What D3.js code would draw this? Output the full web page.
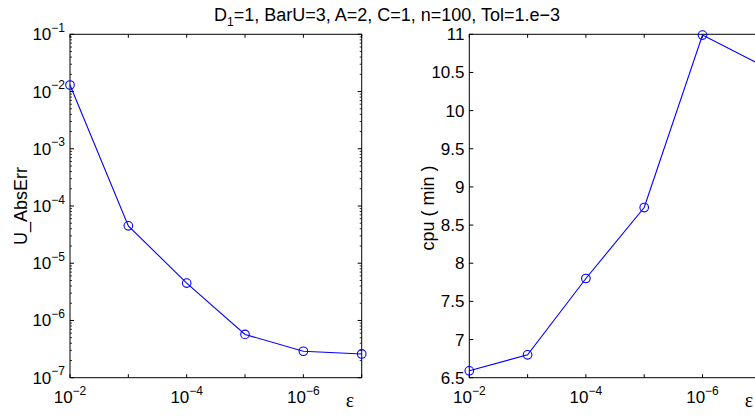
<!DOCTYPE html>
<html><head><meta charset="utf-8">
<script src="https://cdn.jsdelivr.net/npm/d3@7"></script>
<style>
body{margin:0;background:#fff;}
svg{display:block;font-family:"Liberation Sans",Arial,sans-serif;}
</style></head>
<body><svg id="c" width="755" height="416"></svg>
<script>
// ---- data ----
const epsValues = [1e-2, 1e-3, 1e-4, 1e-5, 1e-6, 1e-7];
const absErr = [1.3e-2, 4.5e-5, 4.5e-6, 5.7e-7, 2.9e-7, 2.6e-7];
const cpuMin = [6.59, 6.80, 7.80, 8.73, 10.99, 10.6];
const xTickValues = [1e-2, 1e-4, 1e-6];
const xTickExps = ["\u22122", "\u22124", "\u22126"];
const yLeftTickValues = [1e-1, 1e-2, 1e-3, 1e-4, 1e-5, 1e-6, 1e-7];
const yLeftTickExps = ["\u22121", "\u22122", "\u22123", "\u22124", "\u22125", "\u22126", "\u22127"];
const yRightTickValues = [6.5, 7, 7.5, 8, 8.5, 9, 9.5, 10, 10.5, 11];
const titleMain = "D";
const titleSub = "1";
const titleRest = "=1, BarU=3, A=2, C=1, n=100, Tol=1.e\u22123";

const svg = d3.select("#c");
const blue = "#0000ff";
const yTop = 34.3, yBot = 377.7;
const fs = 17, fsSup = 12, fsTitle = 18, fsLab = 18;

function panel(x0, x1) {
  return d3.scaleLog().domain([1e-2, 1e-7]).range([x0, x1]);
}

// ---------- Left panel ----------
const xL = panel(70, 361.7);
const yL = d3.scaleLog().domain([1e-7, 1e-1]).range([yBot, yTop]);
const gL = svg.append("g");

const minors = [];
for (let e = -7; e < -1; e++) for (let m = 2; m <= 9; m++) minors.push(m * Math.pow(10, e));
minors.forEach(v => {
  const yy = yL(v);
  gL.append("line").attr("x1", 70).attr("x2", 72).attr("y1", yy).attr("y2", yy).attr("stroke", "#000").attr("stroke-width", 0.8);
  gL.append("line").attr("x1", 361.7).attr("x2", 359.7).attr("y1", yy).attr("y2", yy).attr("stroke", "#000").attr("stroke-width", 0.8);
});
yLeftTickValues.forEach((v, i) => {
  const yy = yL(v);
  gL.append("line").attr("x1", 70).attr("x2", 74).attr("y1", yy).attr("y2", yy).attr("stroke", "#000");
  gL.append("line").attr("x1", 361.7).attr("x2", 357.7).attr("y1", yy).attr("y2", yy).attr("stroke", "#000");
  const t = gL.append("text").attr("x", 65).attr("y", yy + 6).attr("text-anchor", "end").attr("font-size", fs);
  t.append("tspan").text("10");
  t.append("tspan").attr("dy", -8.5).attr("font-size", fsSup).text(yLeftTickExps[i]);
});
epsValues.forEach(v => {
  const xx = xL(v);
  gL.append("line").attr("x1", xx).attr("x2", xx).attr("y1", yBot).attr("y2", yBot - 3.5).attr("stroke", "#000");
  gL.append("line").attr("x1", xx).attr("x2", xx).attr("y1", yTop).attr("y2", yTop + 3.5).attr("stroke", "#000");
});
xTickValues.forEach((v, i) => {
  const t = gL.append("text").attr("x", xL(v)).attr("y", 403).attr("text-anchor", "middle").attr("font-size", fs);
  t.append("tspan").text("10");
  t.append("tspan").attr("dy", -8.5).attr("font-size", fsSup).text(xTickExps[i]);
});
gL.append("rect").attr("x", 70).attr("y", yTop).attr("width", 361.7 - 70).attr("height", yBot - yTop)
  .attr("fill", "none").attr("stroke", "#000").attr("stroke-width", 1);
gL.append("path").datum(epsValues.map((e, i) => [e, absErr[i]]))
  .attr("d", d3.line().x(d => xL(d[0])).y(d => yL(d[1])))
  .attr("fill", "none").attr("stroke", blue).attr("stroke-width", 1.1);
gL.selectAll("circle.m").data(epsValues.map((e, i) => [e, absErr[i]])).enter().append("circle")
  .attr("cx", d => xL(d[0])).attr("cy", d => yL(d[1])).attr("r", 4.3)
  .attr("fill", "none").attr("stroke", blue).attr("stroke-width", 1.1);
gL.append("text").attr("transform", "translate(27,206) rotate(-90)").attr("text-anchor", "middle")
  .attr("font-size", fsLab).text("U_AbsErr");
gL.append("text").attr("x", 350).attr("y", 407).attr("text-anchor", "middle")
  .attr("font-family", "Liberation Serif, serif").attr("font-size", 20).text("\u03b5");

// ---------- Right panel ----------
const xR = panel(469.3, 760.8);
const yR = d3.scaleLinear().domain([6.5, 11]).range([yBot, yTop]);
const gR = svg.append("g");
yRightTickValues.forEach(v => {
  const yy = yR(v);
  gR.append("line").attr("x1", 469.3).attr("x2", 473.3).attr("y1", yy).attr("y2", yy).attr("stroke", "#000");
  gR.append("text").attr("x", 464.5).attr("y", yy + 6).attr("text-anchor", "end").attr("font-size", fs).text(String(v));
});
epsValues.forEach(v => {
  const xx = xR(v);
  gR.append("line").attr("x1", xx).attr("x2", xx).attr("y1", yBot).attr("y2", yBot - 3.5).attr("stroke", "#000");
  gR.append("line").attr("x1", xx).attr("x2", xx).attr("y1", yTop).attr("y2", yTop + 3.5).attr("stroke", "#000");
});
xTickValues.forEach((v, i) => {
  const t = gR.append("text").attr("x", xR(v)).attr("y", 403).attr("text-anchor", "middle").attr("font-size", fs);
  t.append("tspan").text("10");
  t.append("tspan").attr("dy", -8.5).attr("font-size", fsSup).text(xTickExps[i]);
});
gR.append("rect").attr("x", 469.3).attr("y", yTop).attr("width", 760.8 - 469.3).attr("height", yBot - yTop)
  .attr("fill", "none").attr("stroke", "#000").attr("stroke-width", 1);
gR.append("path").datum(epsValues.map((e, i) => [e, cpuMin[i]]))
  .attr("d", d3.line().x(d => xR(d[0])).y(d => yR(d[1])))
  .attr("fill", "none").attr("stroke", blue).attr("stroke-width", 1.1);
gR.selectAll("circle.m").data(epsValues.map((e, i) => [e, cpuMin[i]])).enter().append("circle")
  .attr("cx", d => xR(d[0])).attr("cy", d => yR(d[1])).attr("r", 4.3)
  .attr("fill", "none").attr("stroke", blue).attr("stroke-width", 1.1);
gR.append("text").attr("transform", "translate(434,208) rotate(-90)").attr("text-anchor", "middle")
  .attr("font-size", fsLab).text("cpu ( min )");
gR.append("text").attr("x", 749).attr("y", 407).attr("text-anchor", "middle")
  .attr("font-family", "Liberation Serif, serif").attr("font-size", 20).text("\u03b5");

// ---------- Title ----------
const tt = svg.append("text").attr("x", 387).attr("y", 21).attr("text-anchor", "middle").attr("font-size", fsTitle);
tt.append("tspan").text(titleMain);
tt.append("tspan").attr("dy", 5).attr("font-size", 12).text(titleSub);
tt.append("tspan").attr("dy", -5).text(titleRest);
</script></body></html>
